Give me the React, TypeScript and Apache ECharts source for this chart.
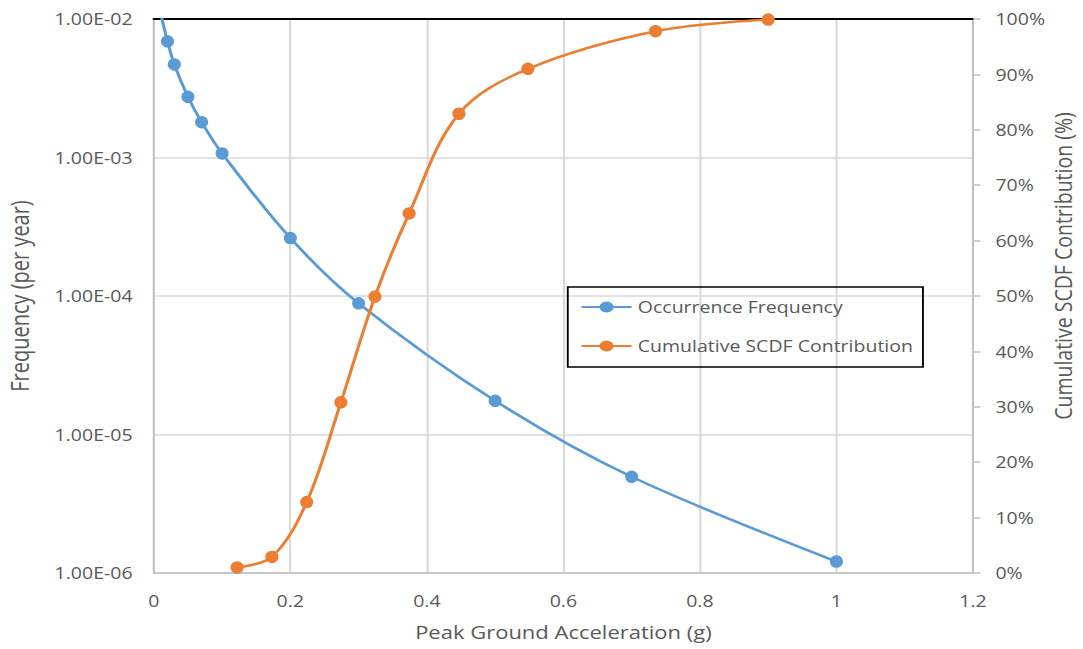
import React, { useEffect, useRef } from 'react';
import * as echarts from 'echarts';

// ---- data ----
const pgaFrequency = [0.01, 0.02, 0.03, 0.05, 0.07, 0.1, 0.2, 0.3, 0.5, 0.7, 1.0];
const occurrenceFrequency = [1.1e-2, 6.9e-3, 4.7e-3, 2.74e-3, 1.8e-3, 1.07e-3, 2.62e-4, 8.85e-5, 1.75e-5, 4.95e-6, 1.21e-6];
const pgaScdf = [0.122, 0.173, 0.224, 0.274, 0.324, 0.374, 0.447, 0.548, 0.735, 0.9];
const cumulativeScdf = [1.0, 2.9, 12.8, 30.8, 49.9, 64.9, 82.9, 91.0, 97.8, 99.9];
const xTickLabels = ['0', '0.2', '0.4', '0.6', '0.8', '1', '1.2'];
const freqTickLabels = ['1.00E-06', '1.00E-05', '1.00E-04', '1.00E-03', '1.00E-02'];
const pctTickLabels = ['0%', '10%', '20%', '30%', '40%', '50%', '60%', '70%', '80%', '90%', '100%'];
const seriesNames = ['Occurrence Frequency', 'Cumulative SCDF Contribution'];

// ---- layout (chart drawn narrower and stretched horizontally like the reference) ----
const PAGE_W = 1083;
const CHART_W = 866;
const SX = PAGE_W / CHART_W;
const H = 649;

const TEXT = '#595959';
const GRID = '#d9d9d9';
const AXIS = '#bfbfbf';
const BLUE = '#5b9bd5';
const ORANGE = '#ed7d31';
const FONT = 'Open Sans';

export default function App() {
  const ref = useRef<HTMLDivElement>(null);

  useEffect(() => {
    if (!ref.current) return;
    const chart = echarts.init(ref.current, null, { renderer: 'svg' });
    const option: any = {
      animation: false,
      backgroundColor: '#ffffff',
      textStyle: { fontFamily: FONT, color: TEXT },
      grid: { left: 123, right: 88, top: 19, bottom: 76, containLabel: false, outerBoundsMode: 'none' },
      legend: {
        data: seriesNames,
        orient: 'vertical',
        left: 464,
        top: 299,
        padding: 0,
        itemWidth: 40,
        itemHeight: 14,
        itemGap: 23,
        textStyle: { fontSize: 15.6, color: TEXT, fontFamily: FONT },
      },
      graphic: [
        {
          type: 'rect',
          shape: { x: 454, y: 287, width: 284, height: 80 },
          style: { fill: 'none', stroke: '#000000', lineWidth: 1.5 },
          z: 10,
        },
      ],
      xAxis: [
        {
          type: 'value',
          min: 0,
          max: 1.2,
          interval: 0.2,
          name: 'Peak Ground Acceleration (g)',
          nameLocation: 'middle',
          nameGap: 50,
          nameMoveOverlap: false,
          nameTextStyle: { fontSize: 17.6, color: TEXT, fontFamily: FONT },
          axisLine: { show: true, onZero: false, lineStyle: { color: AXIS, width: 1.5 } },
          axisTick: { show: false },
          axisLabel: {
            margin: 20,
            fontSize: 15.6,
            color: TEXT,
            formatter: (_v: number, i: number) => xTickLabels[i],
          },
          splitLine: { show: true, lineStyle: { color: GRID, width: 1.6 } },
        },
        {
          type: 'value',
          position: 'top',
          min: 0,
          max: 1.2,
          interval: 0.2,
          axisLine: { show: true, onZero: false, lineStyle: { color: '#000000', width: 2 } },
          axisTick: { show: false },
          axisLabel: { show: false },
          splitLine: { show: false },
        },
      ],
      yAxis: [
        {
          type: 'log',
          logBase: 10,
          min: 1e-6,
          max: 1e-2,
          name: 'Frequency (per year)',
          nameLocation: 'middle',
          nameGap: 97,
          nameMoveOverlap: false,
          nameTextStyle: { fontSize: 20, color: TEXT, fontFamily: FONT },
          axisLine: { show: true, onZero: false, lineStyle: { color: AXIS, width: 1.5 } },
          axisTick: { show: false },
          minorTick: { show: false },
          axisLabel: {
            margin: 17,
            fontSize: 15.6,
            color: TEXT,
            formatter: (_v: number, i: number) => freqTickLabels[i],
          },
          splitLine: { show: true, lineStyle: { color: GRID, width: 1.6 } },
        },
        {
          type: 'value',
          position: 'right',
          min: 0,
          max: 100,
          interval: 10,
          name: 'Cumulative SCDF Contribution (%)',
          nameLocation: 'middle',
          nameGap: 61,
          nameMoveOverlap: false,
          nameTextStyle: { fontSize: 19.5, color: TEXT, fontFamily: FONT, padding: [0, 0, 0, 60] },
          axisLine: { show: true, onZero: false, lineStyle: { color: AXIS, width: 1.5 } },
          axisTick: { show: true, inside: false, length: 6, lineStyle: { color: AXIS, width: 1.5 } },
          axisLabel: {
            margin: 18,
            fontSize: 15.6,
            color: TEXT,
            formatter: (_v: number, i: number) => pctTickLabels[i],
          },
          splitLine: { show: false },
        },
      ],
      series: [
        {
          name: seriesNames[0],
          type: 'line',
          xAxisIndex: 0,
          yAxisIndex: 0,
          data: pgaFrequency.map((x, i) => [x, occurrenceFrequency[i]]),
          smooth: 0.35,
          symbol: 'circle',
          symbolSize: [10.5, 12.5],
          clip: true,
          lineStyle: { color: BLUE, width: 2.5 },
          itemStyle: { color: BLUE },
        },
        {
          name: seriesNames[1],
          type: 'line',
          xAxisIndex: 0,
          yAxisIndex: 1,
          data: pgaScdf.map((x, i) => [x, cumulativeScdf[i]]),
          smooth: 0.35,
          symbol: 'circle',
          symbolSize: [10.5, 12.5],
          clip: true,
          lineStyle: { color: ORANGE, width: 2.5 },
          itemStyle: { color: ORANGE },
        },
      ],
    };
    chart.setOption(option);
    return () => chart.dispose();
  }, []);

  return (
    <div
      ref={ref}
      style={{
        position: 'absolute',
        left: 0,
        top: 0,
        width: CHART_W,
        height: H,
        transform: `scaleX(${SX})`,
        transformOrigin: '0 0',
        background: '#ffffff',
      }}
    />
  );
}
